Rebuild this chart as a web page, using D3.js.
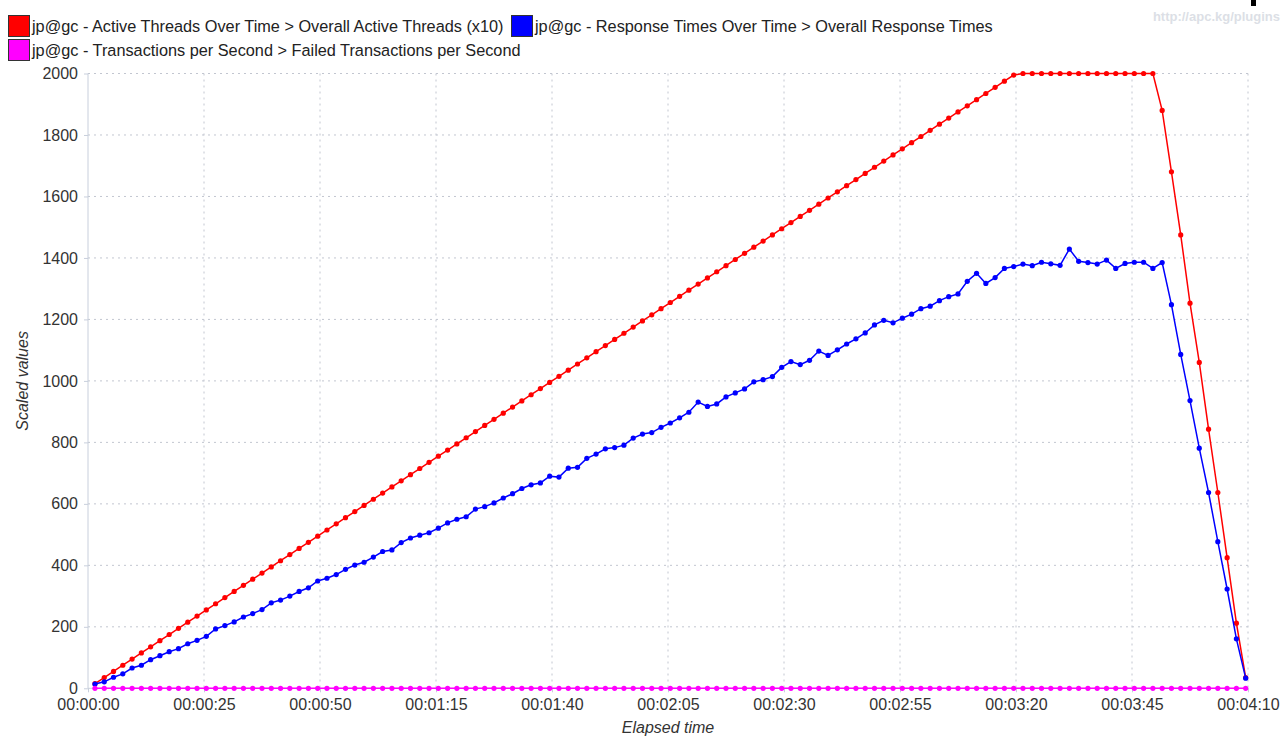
<!DOCTYPE html>
<html>
<head>
<meta charset="utf-8">
<script src="https://cdn.jsdelivr.net/npm/d3@7/dist/d3.min.js"></script>
<style>
  html, body { margin: 0; padding: 0; background: #fff; }
  svg { display: block; font-family: "Liberation Sans", Arial, sans-serif; }
</style>
</head>
<body>
<svg id="chart" width="1284" height="736"></svg>
<script>
// Sample times (elapsed seconds, 2 s aggregation buckets)
const elapsed = [
  1.5, 3.5, 5.5, 7.5, 9.5, 11.5, 13.5, 15.5, 17.5, 19.5,
  21.5, 23.5, 25.5, 27.5, 29.5, 31.5, 33.5, 35.5, 37.5, 39.5,
  41.5, 43.5, 45.5, 47.5, 49.5, 51.5, 53.5, 55.5, 57.5, 59.5,
  61.5, 63.5, 65.5, 67.5, 69.5, 71.5, 73.5, 75.5, 77.5, 79.5,
  81.5, 83.5, 85.5, 87.5, 89.5, 91.5, 93.5, 95.5, 97.5, 99.5,
  101.5, 103.5, 105.5, 107.5, 109.5, 111.5, 113.5, 115.5, 117.5, 119.5,
  121.5, 123.5, 125.5, 127.5, 129.5, 131.5, 133.5, 135.5, 137.5, 139.5,
  141.5, 143.5, 145.5, 147.5, 149.5, 151.5, 153.5, 155.5, 157.5, 159.5,
  161.5, 163.5, 165.5, 167.5, 169.5, 171.5, 173.5, 175.5, 177.5, 179.5,
  181.5, 183.5, 185.5, 187.5, 189.5, 191.5, 193.5, 195.5, 197.5, 199.5,
  201.5, 203.5, 205.5, 207.5, 209.5, 211.5, 213.5, 215.5, 217.5, 219.5,
  221.5, 223.5, 225.5, 227.5, 229.5, 231.5, 233.5, 235.5, 237.5, 239.5,
  241.5, 243.5, 245.5, 247.5, 249.5
];

// Overall Active Threads (x10)
const activeThreads = [
  15, 35, 55, 75, 95, 115, 135, 155, 175, 195,
  215, 235, 255, 275, 295, 315, 335, 355, 375, 395,
  415, 435, 455, 475, 495, 515, 535, 555, 575, 595,
  615, 635, 655, 675, 695, 715, 735, 755, 775, 795,
  815, 835, 855, 875, 895, 915, 935, 955, 975, 995,
  1015, 1035, 1055, 1075, 1095, 1115, 1135, 1155, 1175, 1195,
  1215, 1235, 1255, 1275, 1295, 1315, 1335, 1355, 1375, 1395,
  1415, 1435, 1455, 1475, 1495, 1515, 1535, 1555, 1575, 1595,
  1615, 1635, 1655, 1675, 1695, 1715, 1735, 1755, 1775, 1795,
  1815, 1835, 1855, 1875, 1895, 1915, 1935, 1955, 1975, 1995,
  2000, 2000, 2000, 2000, 2000, 2000, 2000, 2000, 2000, 2000,
  2000, 2000, 2000, 2000, 2000, 1880, 1680, 1475, 1253, 1060,
  843, 637, 425, 212, 35
];

// Overall Response Times
const responseTimes = [
  14, 21, 36, 47, 66, 75, 93, 106, 119, 129,
  145, 156, 169, 193, 204, 216, 232, 243, 256, 278,
  287, 300, 315, 327, 349, 358, 370, 387, 401, 410,
  427, 445, 450, 474, 489, 498, 506, 521, 538, 550,
  558, 583, 591, 603, 619, 633, 650, 662, 668, 690,
  687, 716, 719, 748, 762, 779, 783, 791, 814, 827,
  832, 849, 863, 880, 898, 931, 917, 925, 948, 961,
  974, 997, 1004, 1014, 1044, 1063, 1053, 1067, 1097, 1083,
  1101, 1120, 1137, 1156, 1182, 1197, 1189, 1204, 1217, 1235,
  1243, 1261, 1274, 1283, 1324, 1350, 1317, 1336, 1366, 1372,
  1380, 1375, 1386, 1381, 1376, 1429, 1389, 1385, 1380, 1393,
  1366, 1382, 1386, 1386, 1366, 1385, 1248, 1086, 936, 781,
  637, 477, 323, 161, 33
];

// Failed Transactions per Second
const failedTps = [
  0, 0, 0, 0, 0, 0, 0, 0, 0, 0,
  0, 0, 0, 0, 0, 0, 0, 0, 0, 0,
  0, 0, 0, 0, 0, 0, 0, 0, 0, 0,
  0, 0, 0, 0, 0, 0, 0, 0, 0, 0,
  0, 0, 0, 0, 0, 0, 0, 0, 0, 0,
  0, 0, 0, 0, 0, 0, 0, 0, 0, 0,
  0, 0, 0, 0, 0, 0, 0, 0, 0, 0,
  0, 0, 0, 0, 0, 0, 0, 0, 0, 0,
  0, 0, 0, 0, 0, 0, 0, 0, 0, 0,
  0, 0, 0, 0, 0, 0, 0, 0, 0, 0,
  0, 0, 0, 0, 0, 0, 0, 0, 0, 0,
  0, 0, 0, 0, 0, 0, 0, 0, 0, 0,
  0, 0, 0, 0, 0
];

const seriesNames = [
  "jp@gc - Active Threads Over Time > Overall Active Threads (x10)",
  "jp@gc - Response Times Over Time > Overall Response Times",
  "jp@gc - Transactions per Second > Failed Transactions per Second"
];
const seriesColors = ["#ff0000", "#0000ff", "#ff00ff"];

const xTickValues = [0, 25, 50, 75, 100, 125, 150, 175, 200, 225, 250];
const xTickLabels = ["00:00:00", "00:00:25", "00:00:50", "00:01:15", "00:01:40",
  "00:02:05", "00:02:30", "00:02:55", "00:03:20", "00:03:45", "00:04:10"];
const yTickValues = [0, 200, 400, 600, 800, 1000, 1200, 1400, 1600, 1800, 2000];

const svg = d3.select("#chart");
svg.append("rect").attr("width", 1284).attr("height", 736).attr("fill", "#fff");

const plot = { left: 88, right: 1248, top: 73.5, bottom: 688.3 };
const x = d3.scaleLinear().domain([0, 250]).range([plot.left, plot.right]);
const y = d3.scaleLinear().domain([0, 2000]).range([plot.bottom, plot.top]);

// grid
const grid = svg.append("g");
grid.selectAll("line.h").data(yTickValues.slice(1)).join("line")
  .attr("x1", plot.left).attr("x2", plot.right)
  .attr("y1", d => y(d)).attr("y2", d => y(d))
  .attr("stroke", "#c2c6d0").attr("stroke-width", 1).attr("stroke-dasharray", "2,4");
grid.selectAll("line.v").data(xTickValues.slice(1)).join("line")
  .attr("x1", d => x(d)).attr("x2", d => x(d))
  .attr("y1", plot.top).attr("y2", plot.bottom)
  .attr("stroke", "#c2c6d0").attr("stroke-width", 1).attr("stroke-dasharray", "2,4");

// axes
const yAxis = d3.axisLeft(y).tickValues(yTickValues).tickFormat(d3.format("d"))
  .tickSize(4).tickPadding(6);
const gy = svg.append("g").attr("transform", `translate(${plot.left},0)`).call(yAxis);
gy.select(".domain").attr("stroke", "#c8cfdc").attr("d", `M0,${plot.top}V${plot.bottom}`);
gy.selectAll(".tick line").attr("stroke", "#c8cfdc");
gy.selectAll(".tick text").attr("fill", "#333").style("font-size", "16px")
  .style("font-family", '"Liberation Sans", Arial, sans-serif');

const xAxis = d3.axisBottom(x).tickValues(xTickValues)
  .tickFormat((d, i) => xTickLabels[i]).tickSize(4).tickPadding(6);
const gx = svg.append("g").attr("transform", `translate(0,${plot.bottom})`).call(xAxis);
gx.select(".domain").attr("stroke", "#c8cfdc").attr("d", `M${plot.left},0H${plot.right}`);
gx.selectAll(".tick line").attr("stroke", "#c8cfdc");
gx.selectAll(".tick text").attr("fill", "#333").style("font-size", "16px")
  .style("font-family", '"Liberation Sans", Arial, sans-serif');

// axis titles
svg.append("text").attr("x", (plot.left + plot.right) / 2).attr("y", 733)
  .attr("text-anchor", "middle").attr("font-size", 16).attr("font-style", "italic")
  .attr("fill", "#333").text("Elapsed time");
svg.append("text").attr("transform", `translate(28,${(plot.top + plot.bottom) / 2}) rotate(-90)`)
  .attr("text-anchor", "middle").attr("font-size", 16).attr("font-style", "italic")
  .attr("fill", "#333").text("Scaled values");

// series
const seriesData = [activeThreads, responseTimes, failedTps];
const line = d3.line().x(d => x(d.t)).y(d => y(d.v));
seriesData.forEach((vals, k) => {
  const pts = vals.map((v, i) => ({ t: elapsed[i], v }));
  const g = svg.append("g");
  g.append("path").datum(pts).attr("d", line)
    .attr("fill", "none").attr("stroke", seriesColors[k]).attr("stroke-width", 1.5);
  g.selectAll("circle").data(pts).join("circle")
    .attr("cx", d => x(d.t)).attr("cy", d => y(d.v)).attr("r", 2.6)
    .attr("fill", seriesColors[k]);
});

// legend
const legendItems = [
  { i: 0, x: 8, y: 15 },
  { i: 1, x: 511, y: 15 },
  { i: 2, x: 8, y: 39 }
];
const lg = svg.append("g");
legendItems.forEach(it => {
  lg.append("rect").attr("x", it.x + 0.5).attr("y", it.y + 0.5).attr("width", 21).attr("height", 21)
    .attr("fill", seriesColors[it.i]).attr("stroke", "#333").attr("stroke-width", 1);
  lg.append("text").attr("x", it.x + 24).attr("y", it.y + 17)
    .attr("font-size", 16.3).attr("fill", "#222").text(seriesNames[it.i]);
});

// watermark
svg.append("text").attr("x", 1280).attr("y", 21).attr("text-anchor", "end")
  .attr("font-size", 13).attr("font-weight", "bold").attr("fill", "#dcdfe6")
  .text("http://apc.kg/plugins");
svg.append("rect").attr("x", 1251).attr("y", 0).attr("width", 5).attr("height", 6).attr("fill", "#000");
</script>
</body>
</html>
